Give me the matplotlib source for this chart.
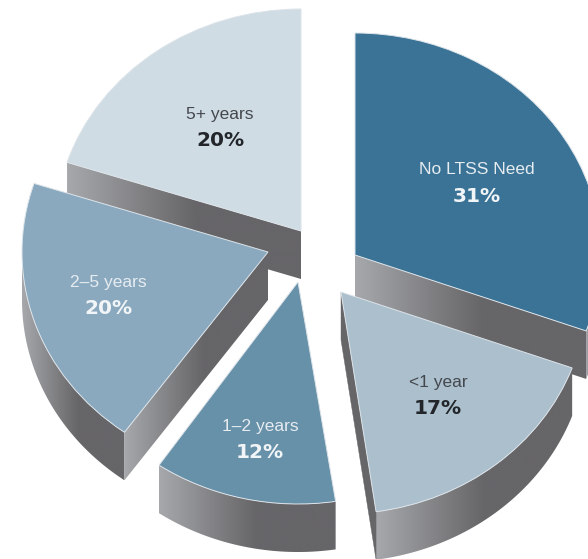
import numpy as np
import matplotlib
matplotlib.use("Agg")
import matplotlib.pyplot as plt
from matplotlib.patches import Wedge, Polygon
from matplotlib.colors import to_rgb
from matplotlib.transforms import Affine2D

categories = ["No LTSS Need", "<1 year", "1–2 years", "2–5 years", "5+ years"]
values = [31, 17, 12, 20, 20]

face_colors = ["#3A7396", "#ABBFCD", "#6790A9", "#8AA9BF", "#CFDCE4"]
apexes = [(355, 255), (341, 292), (298, 282), (268, 252), (301, 231)]
label_pos = [(477, 170), (438, 383), (260, 427), (108, 282), (220, 114)]
label_dark = [False, True, False, False, True]
draw_order = [4, 0, 3, 1, 2]
start_nudge = [0, 1.6, 1.6, 0.3, 0]
end_nudge = [1.6, 1.0, 1.6, 0, 0]

RX, RY, DEPTH = 246, 222, 48
LIGHT, DARK = np.array(to_rgb("#A6A8AB")), np.array(to_rgb("#666568"))

plt.rcParams["font.family"] = ["Liberation Sans", "DejaVu Sans"]
fig = plt.figure(figsize=(5.88, 5.59), dpi=100)
ax = fig.add_axes([0, 0, 1, 1])
ax.axis("off")

fractions = np.array(values) / sum(values)
ends = 90 - np.cumsum(fractions) * 360
starts = ends + fractions * 360
layer = [10]


def next_z():
    layer[0] += 1
    return layer[0]


def draw_wall(path, ramp=0.55, flat=False):
    path = np.asarray(path, float)
    verts = np.vstack([path, path[::-1] + (0, DEPTH)])
    z = next_z()
    if flat:
        ax.add_patch(Polygon(verts, facecolor=DARK, edgecolor=DARK, linewidth=0.3, zorder=z))
        return
    clip = Polygon(verts, facecolor="none", edgecolor="none", zorder=z)
    ax.add_patch(clip)
    t = np.clip(np.linspace(0, 1, 256) / ramp, 0, 1)[:, None]
    grad = (LIGHT + (DARK - LIGHT) * t)[None, :, :]
    xmin, xmax = verts[:, 0].min(), verts[:, 0].max()
    ymin, ymax = verts[:, 1].min(), verts[:, 1].max()
    im = ax.imshow(grad, extent=[xmin, xmax, ymax, ymin], aspect="auto", zorder=z,
                   interpolation="bilinear")
    im.set_clip_path(clip)


def point(apex, deg):
    r = np.radians(deg)
    return np.array([apex[0] + RX * np.cos(r), apex[1] - RY * np.sin(r)])


for i in draw_order:
    apex = np.array(apexes[i], float)
    t_min, t_max = ends[i] + end_nudge[i], starts[i] + start_nudge[i]
    angles = np.linspace(t_min, t_max, 200)
    low = angles[np.sin(np.radians(angles)) < 0]
    if len(low) > 1:
        draw_wall([point(apex, a) for a in low])
    for edge, side in ((t_min, 1), (t_max, -1)):
        if side * np.cos(np.radians(edge)) > 1e-6:
            end = point(apex, edge)
            steep = abs(end[0] - apex[0]) < 60
            draw_wall(apex + np.array([[0.0], [1.0]]) * (end - apex), flat=steep)
    tr = Affine2D().scale(RX, -RY).translate(*apex) + ax.transData
    ax.add_patch(Wedge((0, 0), 1, t_min, t_max, facecolor=face_colors[i],
                       edgecolor="#DDE4E9", linewidth=0.7, transform=tr, zorder=next_z()))

for name, val, pos, dark in zip(categories, values, label_pos, label_dark):
    ax.text(pos[0], pos[1], name, ha="center", va="center", fontsize=12.5,
            color="#44484D" if dark else "#E6ECF0", zorder=100)
    ax.text(pos[0], pos[1] + 26, f"{val}%", ha="center", va="center", fontsize=14.5,
            fontweight="bold", family="DejaVu Sans",
            color="#22262A" if dark else "#F2F5F7", zorder=100)

ax.set_xlim(0, 588)
ax.set_ylim(559, 0)
fig.savefig("out.png", dpi=100, facecolor="white")
